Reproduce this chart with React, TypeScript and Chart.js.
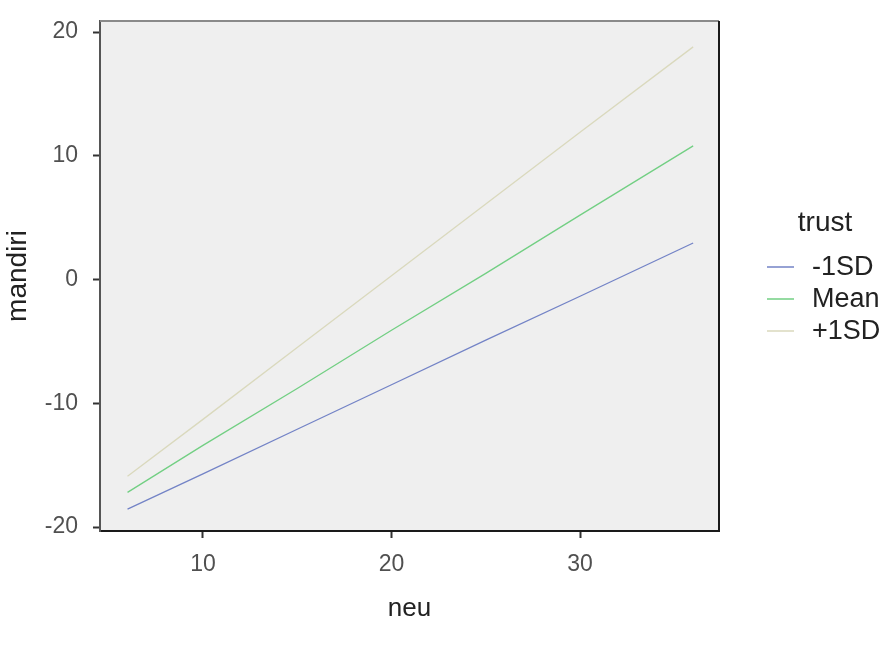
import React, { useEffect, useRef } from "react";
import { Chart, registerables } from "chart.js";

Chart.register(...registerables);

const neu = [6, 10, 15, 20, 25, 30, 36];
const lowSD = [-18.55, -15.7, -12.1, -8.5, -4.9, -1.35, 2.95];
const meanVals = [-17.2, -13.4, -8.8, -4.1, 0.5, 5.2, 10.8];
const highSD = [-15.9, -11.3, -5.5, 0.3, 6.1, 11.9, 18.8];
const seriesLabels = ["-1SD", "Mean", "+1SD"];
const seriesColors = ["#7383c6", "#72cf83", "#dad9bd"];
const xTicks = [10, 20, 30];
const yTicks = [-20, -10, 0, 10, 20];
const legendTitle = "trust";
const xTitle = "neu";
const yTitle = "mandiri";

const FONT = "'Liberation Sans', Arial, sans-serif";

export default function App() {
  const ref = useRef<HTMLCanvasElement | null>(null);
  useEffect(() => {
    if (!ref.current) return;
    const seriesData = [lowSD, meanVals, highSD];
    const bgPlugin = {
      id: "bg",
      beforeDraw(chart: any) {
        const { ctx, chartArea: a } = chart;
        ctx.save();
        ctx.fillStyle = "#efefef";
        ctx.fillRect(a.left, a.top, a.right - a.left, a.bottom - a.top);
        ctx.restore();
      },
      afterDraw(chart: any) {
        const { ctx, chartArea: a } = chart;
        ctx.save();
        ctx.lineWidth = 2;
        ctx.strokeStyle = "#8a8a8a";
        ctx.beginPath();
        ctx.moveTo(a.left, a.top);
        ctx.lineTo(a.right, a.top);
        ctx.stroke();
        ctx.strokeStyle = "#1a1a1a";
        ctx.beginPath();
        ctx.moveTo(a.right, a.top);
        ctx.lineTo(a.right, a.bottom);
        ctx.stroke();
        // legend
        ctx.fillStyle = "#222";
        ctx.font = `28px ${FONT}`;
        ctx.textAlign = "center";
        ctx.textBaseline = "middle";
        ctx.fillText(legendTitle, a.right + 106, 223);
        ctx.textAlign = "left";
        ctx.font = `27px ${FONT}`;
        seriesLabels.forEach((lab, i) => {
          const y = 267 + i * 32;
          ctx.strokeStyle = seriesColors[i];
          ctx.lineWidth = 1.5;
          ctx.beginPath();
          ctx.moveTo(a.right + 48, y);
          ctx.lineTo(a.right + 75, y);
          ctx.stroke();
          ctx.fillStyle = "#222";
          ctx.fillText(lab, a.right + 93, y + 1);
        });
        ctx.restore();
      },
    };
    const chart = new Chart(ref.current, {
      type: "line",
      data: {
        datasets: seriesLabels.map((lab, i) => ({
          label: lab,
          data: neu.map((x, j) => ({ x, y: seriesData[i][j] })),
          borderColor: seriesColors[i],
          borderWidth: 1.3,
          pointRadius: 0,
          tension: 0,
          fill: false,
        })),
      },
      options: {
        animation: false,
        responsive: false,
        maintainAspectRatio: false,
        layout: { padding: { top: 21, right: 175, left: 0, bottom: 0 } },
        plugins: { legend: { display: false }, tooltip: { enabled: false } },
        scales: {
          x: {
            type: "linear",
            min: 4.54,
            max: 37.37,
            afterBuildTicks(scale: any) {
              scale.ticks = xTicks.map((v) => ({ value: v }));
            },
            afterFit(scale: any) {
              scale.height = 128;
              scale.paddingLeft = 0;
              scale.paddingRight = 0;
            },
            grid: {
              display: true,
              drawOnChartArea: false,
              drawTicks: true,
              tickLength: 7,
              tickWidth: 2,
              tickColor: "#333",
            },
            border: { display: true, color: "#1a1a1a", width: 2 },
            ticks: {
              font: { family: FONT, size: 23 },
              color: "#505050",
              padding: 13,
              maxRotation: 0,
            },
            title: {
              display: true,
              text: xTitle,
              font: { family: FONT, size: 26 },
              color: "#222",
              padding: { top: 0, bottom: 35 },
            },
          },
          y: {
            type: "linear",
            min: -20.32,
            max: 20.89,
            afterBuildTicks(scale: any) {
              scale.ticks = yTicks.map((v) => ({ value: v }));
            },
            afterFit(scale: any) {
              scale.width = 100;
              scale.paddingTop = 0;
              scale.paddingBottom = 0;
            },
            grid: {
              display: true,
              drawOnChartArea: false,
              drawTicks: true,
              tickLength: 7,
              tickWidth: 2,
              tickColor: "#333",
            },
            border: { display: true, color: "#555", width: 2 },
            ticks: {
              font: { family: FONT, size: 23 },
              color: "#505050",
              padding: 15,
            },
            title: {
              display: true,
              text: yTitle,
              font: { family: FONT, size: 28 },
              color: "#222",
              padding: { top: 1, bottom: 0 },
            },
          },
        },
      },
      plugins: [bgPlugin],
    } as any);
    return () => chart.destroy();
  }, []);
  return (
    <div style={{ position: "fixed", left: 0, top: 0, width: 894, height: 659, background: "#fff" }}>
      <canvas ref={ref} width={894} height={659} style={{ width: 894, height: 659 }} />
    </div>
  );
}
